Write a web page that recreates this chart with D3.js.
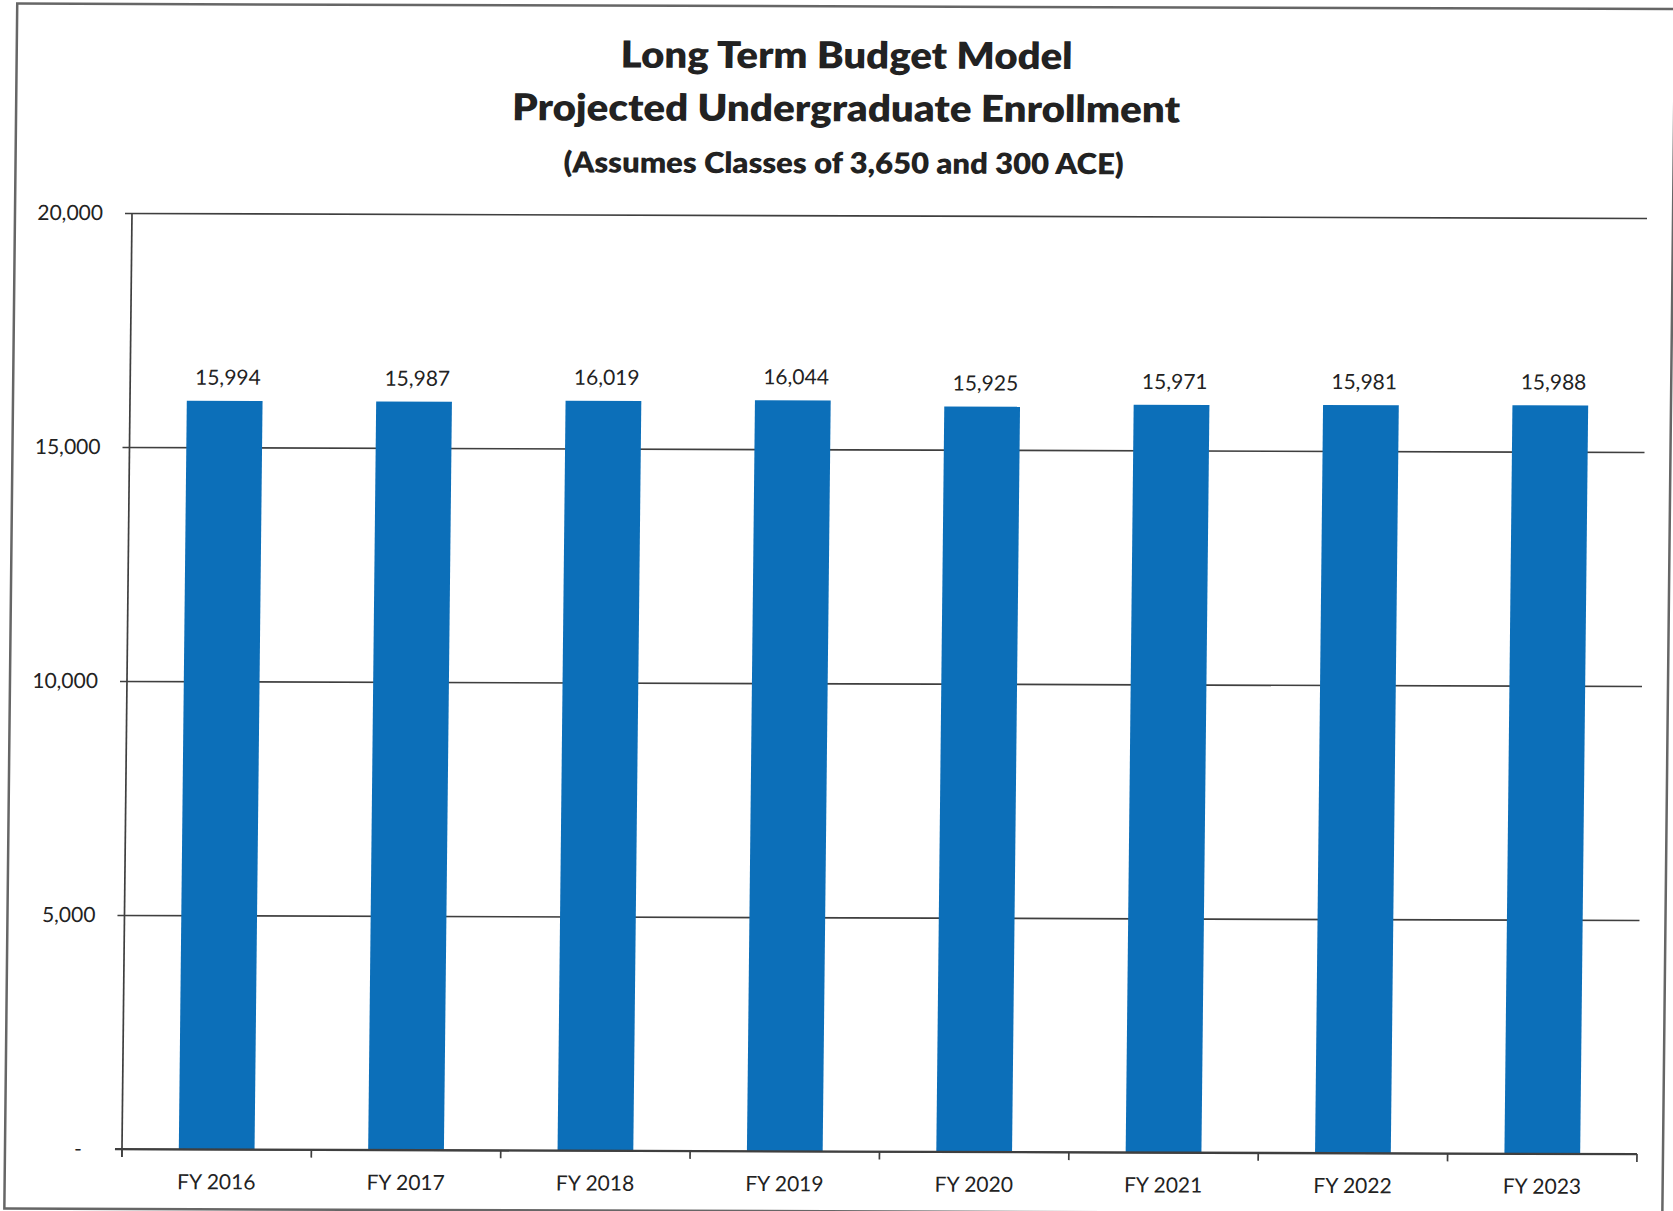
<!DOCTYPE html>
<html>
<head>
<meta charset="utf-8">
<script src="https://cdn.jsdelivr.net/npm/d3@7"></script>
<style>
  html, body { margin: 0; padding: 0; background: #fff; }
  svg { display: block; }
  text { font-family: Lato, "Open Sans", sans-serif; fill: #222; }
</style>
</head>
<body>
<svg id="chart" width="1673" height="1211"></svg>
<script>
// Fiscal years on the category axis
const years = ["FY 2016", "FY 2017", "FY 2018", "FY 2019", "FY 2020", "FY 2021", "FY 2022", "FY 2023"];
// Projected undergraduate headcount per year
const enrollment = [15994, 15987, 16019, 16044, 15925, 15971, 15981, 15988];
// Value-axis ticks
const yTicks = [0, 5000, 10000, 15000, 20000];
// Title lines
const titleLines = ["Long Term Budget Model", "Projected Undergraduate Enrollment"];
const subtitle = "(Assumes Classes of 3,650 and 300 ACE)";

const W = 1673, H = 1211;
const plot = { left: 132, right: 1647, top: 213, bottom: 1149 };

const svg = d3.select("#chart");
svg.append("rect").attr("width", W).attr("height", H).attr("fill", "#fff");

// The printed page sits slightly askew; shear the whole drawing about the plot's top-left corner.
const kx = -0.0107, ky = 0.0033;
const root = svg.append("g")
  .attr("transform", `matrix(1,${ky},${kx},1,${-kx * plot.top},${-ky * plot.left})`);

// Outer frame of the chart area
root.append("rect")
  .attr("x", 15).attr("y", 4)
  .attr("width", 1658).attr("height", 1205)
  .attr("fill", "none").attr("stroke", "#666").attr("stroke-width", 2.5);

// Titles
const titleG = root.append("g").attr("text-anchor", "middle");
titleG.append("text").attr("x", 845).attr("y", 66)
  .attr("font-size", 37).attr("font-weight", 800)
  .attr("textLength", 452).attr("lengthAdjust", "spacingAndGlyphs")
  .text(titleLines[0]);
titleG.append("text").attr("x", 845).attr("y", 119)
  .attr("font-size", 37).attr("font-weight", 800)
  .attr("textLength", 668).attr("lengthAdjust", "spacingAndGlyphs")
  .text(titleLines[1]);
titleG.append("text").attr("x", 843).attr("y", 171)
  .attr("font-size", 29).attr("font-weight", 800)
  .attr("textLength", 560).attr("lengthAdjust", "spacingAndGlyphs")
  .text(subtitle);

// Scales
const x = d3.scaleBand().domain(years)
  .range([plot.left, plot.right])
  .paddingInner(0.6).paddingOuter(0.3);
const y = d3.scaleLinear().domain([0, 20000]).range([plot.bottom, plot.top]);

const fmt = d3.format(",");
const lineColor = "#3f3f3f";

// Value axis with gridlines
const yAxis = root.append("g")
  .attr("transform", `translate(${plot.left},0)`)
  .call(d3.axisLeft(y).tickValues(yTicks)
    .tickSize(-(plot.right - plot.left)).tickSizeOuter(0)
    .tickPadding(29)
    .tickFormat(d => d === 0 ? "-" : fmt(d)));
yAxis.select(".domain").remove();
yAxis.selectAll(".tick line")
  .attr("x1", -7)
  .attr("stroke", lineColor).attr("stroke-width", 1.7);
yAxis.selectAll(".tick text")
  .attr("font-size", 21).attr("fill", "#222")
  .attr("font-family", "Lato, 'Open Sans', sans-serif");
yAxis.selectAll(".tick").filter(d => d === 0).select("text").attr("dx", -11);

// Vertical axis line
root.append("line")
  .attr("x1", plot.left).attr("x2", plot.left)
  .attr("y1", plot.top).attr("y2", plot.bottom + 8)
  .attr("stroke", lineColor).attr("stroke-width", 1.7);

// Bars
root.append("g").selectAll("rect")
  .data(years)
  .join("rect")
  .attr("x", d => x(d))
  .attr("width", x.bandwidth())
  .attr("y", (d, i) => y(enrollment[i]))
  .attr("height", (d, i) => y(0) - y(enrollment[i]))
  .attr("fill", "#0c6fb9");

// Category axis drawn over the bar feet
const step = x.step();
const bounds = d3.range(years.length + 1).map(i => plot.left + i * step);
const xAxis = root.append("g");
xAxis.append("line")
  .attr("x1", plot.left - 7).attr("x2", plot.right)
  .attr("y1", plot.bottom).attr("y2", plot.bottom)
  .attr("stroke", lineColor).attr("stroke-width", 1.9);
xAxis.selectAll("line.tk")
  .data(bounds)
  .join("line").attr("class", "tk")
  .attr("x1", d => d).attr("x2", d => d)
  .attr("y1", plot.bottom).attr("y2", plot.bottom + 8)
  .attr("stroke", lineColor).attr("stroke-width", 1.7);
xAxis.selectAll("text")
  .data(years)
  .join("text")
  .attr("x", d => x(d) + x.bandwidth() / 2)
  .attr("y", plot.bottom + 40)
  .attr("text-anchor", "middle")
  .attr("font-size", 21)
  .text(d => d);

// Value labels above each bar
root.append("g").selectAll("text")
  .data(years)
  .join("text")
  .attr("x", d => x(d) + x.bandwidth() / 2 + 3)
  .attr("y", (d, i) => y(enrollment[i]) - 16)
  .attr("text-anchor", "middle")
  .attr("font-size", 21)
  .text((d, i) => fmt(enrollment[i]));
</script>
</body>
</html>
